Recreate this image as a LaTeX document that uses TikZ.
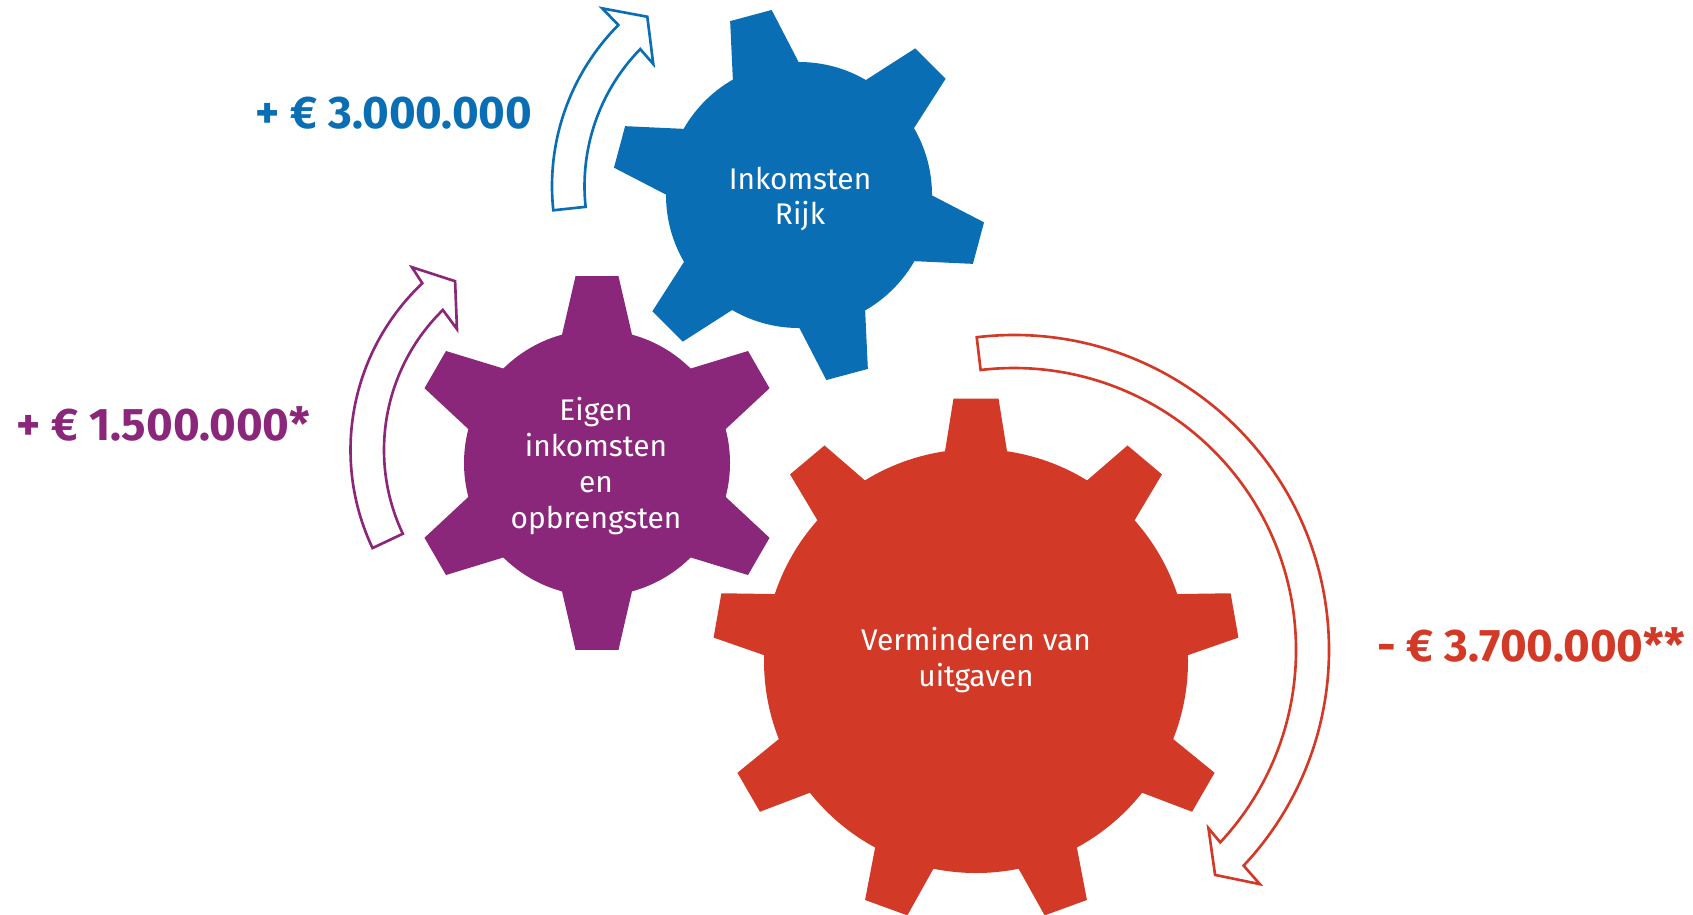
\documentclass[tikz,border=0pt]{standalone}
\usepackage{fontspec}
\setsansfont{Fira Sans}

\definecolor{rijkblue}{RGB}{10,110,180}
\definecolor{eigenpurple}{RGB}{138,39,122}
\definecolor{uitgavered}{RGB}{211,57,39}

\begin{document}
\begin{tikzpicture}[font=\sffamily, x=0.02cm, y=0.02cm,
	geartext/.style={text=white, align=center, font=\sffamily\fontsize{17}{20.4}\selectfont},
	amount/.style={anchor=base west, inner sep=0pt, font=\sffamily\bfseries\fontsize{26}{30}\selectfont},
	ringarrow/.style={line width=1.5pt, fill=white}]
	\useasboundingbox (0,0) rectangle (1693,-914);

	% gears
	\begin{scope}[shift={(799,-195)}]
		\fill[rijkblue] (0,0) circle (133);
		\foreach \a in {105,165,...,405}
			\fill[rijkblue, rotate=\a] (110,-38.1) -- (185.8,-21.5) -- (185.8,21.5) -- (110,38.1) -- cycle;
	\end{scope}
	\begin{scope}[shift={(597,-463)}]
		\fill[eigenpurple] (0,0) circle (133);
		\foreach \a in {90,150,...,390}
			\fill[eigenpurple, rotate=\a] (110,-39.2) -- (186.8,-21.5) -- (186.8,21.5) -- (110,39.2) -- cycle;
	\end{scope}
	\begin{scope}[shift={(976,-661)}]
		\fill[uitgavered] (0,0) circle (212);
		\foreach \a in {90,130,...,410}
			\fill[uitgavered, rotate=\a] (190,-34.2) -- (262.5,-22.5) -- (262.5,22.5) -- (190,34.2) -- cycle;
	\end{scope}

	% arrows round the gears
	\begin{scope}[shift={(780.5,-186)}]
		\draw[ringarrow, draw=rijkblue] (186.1:228.5) arc[start angle=186.1, end angle=135.2, radius=228.5]
			-- (135.1:251.7) -- (128.2:215.4) -- (136.2:176.3) -- (135.7:196)
			arc[start angle=135.7, end angle=186.1, radius=196] -- cycle;
	\end{scope}
	\begin{scope}[shift={(580,-450)}]
		\draw[ringarrow, draw=eigenpurple] (205.3:229.5) arc[start angle=205.3, end angle=133.4, radius=229.5]
			-- (132.6:248.4) -- (126.5:210) -- (135.5:172.5) -- (134.4:196)
			arc[start angle=134.4, end angle=205.3, radius=196] -- cycle;
	\end{scope}
	\begin{scope}[shift={(1014,-650)}]
		\draw[ringarrow, draw=uitgavered] (96.8:315) arc[start angle=96.8, end angle=-43.2, radius=315]
			-- (-43.6:339.5) -- (-48.2:301.7) -- (-42.5:263.7) -- (-43:282)
			arc[start angle=-43, end angle=96.8, radius=282] -- cycle;
	\end{scope}

	% texts
	\node[geartext] (rijk) at (800,-199) {Inkomsten\\Rijk};
	\node[geartext] (eigen) at (596,-466) {Eigen\\inkomsten\\en\\opbrengsten};
	\node[geartext] (uitgaven) at (976,-660) {Verminderen van\\uitgaven};

	\node[amount, text=rijkblue] (plusrijk) at (255,-128) {+ € 3.000.000};
	\node[amount, text=eigenpurple] (pluseigen) at (16,-440) {+ € 1.500.000*};
	\node[amount, text=uitgavered] (minuitgaven) at (1377,-661) {- € 3.700.000**};
\end{tikzpicture}
\end{document}
